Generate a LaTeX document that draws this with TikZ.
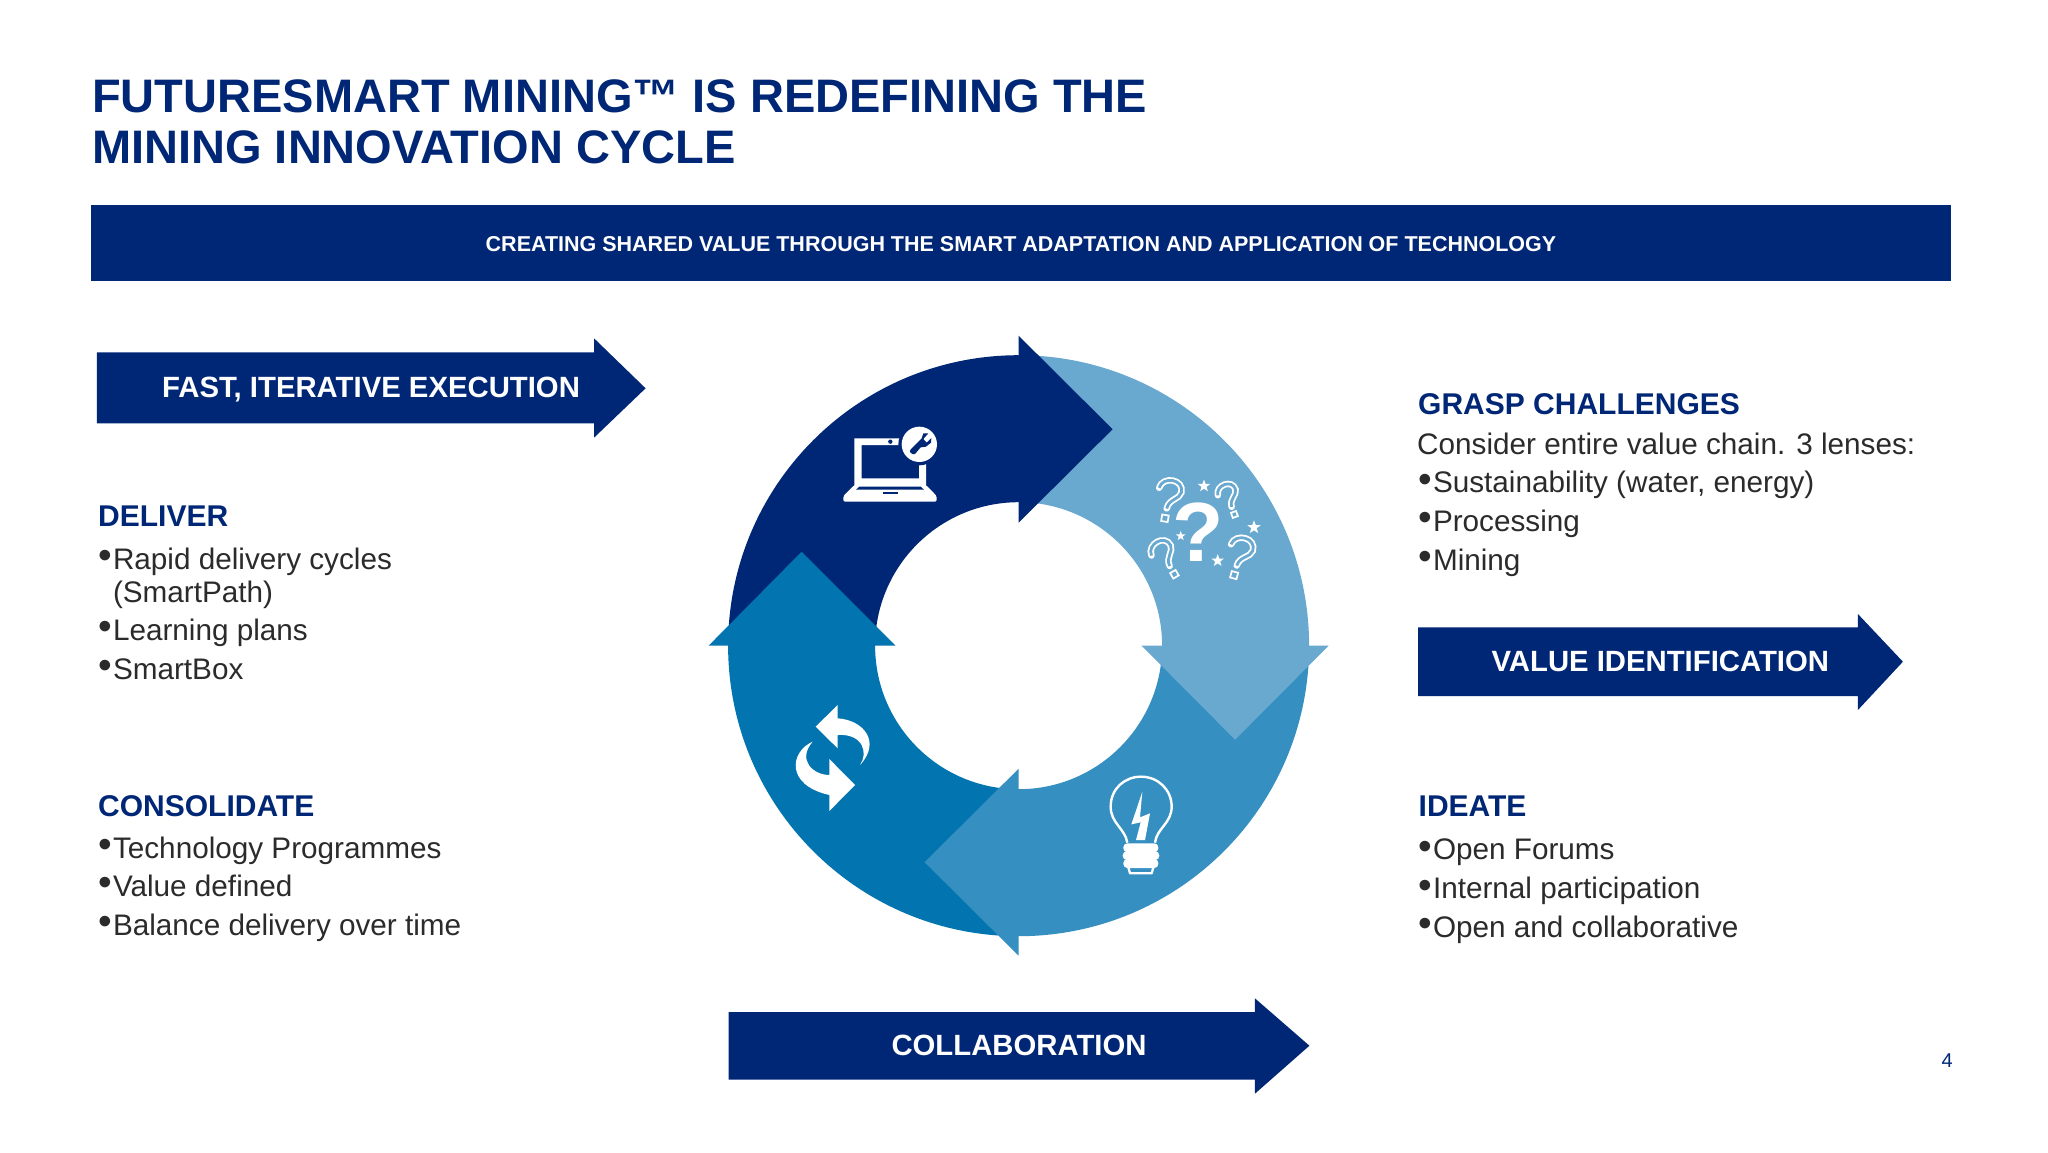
\documentclass[tikz,border=0pt]{standalone}
\usepackage{fontspec}
\setmainfont{Liberation Sans}
\usetikzlibrary{shapes.geometric}

\definecolor{navy}{HTML}{002776}
\definecolor{ringlight}{HTML}{69A9D0}
\definecolor{ringmid}{HTML}{358FC1}
\definecolor{ringteal}{HTML}{0274B0}
\definecolor{bodygray}{HTML}{2B2B2B}

\newcommand{\bul}{\makebox[14.8pt][l]{\raisebox{0.6pt}{\fontsize{39}{39}\selectfont •}}}
\newcommand{\qmark}[4]{%
	\begin{scope}[shift={(#1,#2)},rotate=#3,scale=#4]
		\draw[qout] (-30,-10) .. controls (-26,-45) and (34,-45) .. (32,-8) .. controls (30,12) and (2,14) .. (0,42);
		\draw[qin] (-30,-10) .. controls (-26,-45) and (34,-45) .. (32,-8) .. controls (30,12) and (2,14) .. (0,42);
		\draw[qdot] (-9,60) rectangle (9,78);
	\end{scope}}

\begin{document}
\begin{tikzpicture}[x=1pt,y=-1pt]
	\tikzstyle{titletext} = [anchor=base west,inner sep=0,text=navy,font=\bfseries\fontsize{47}{50}\selectfont]
	\tikzstyle{bartext} = [anchor=base,inner sep=0,text=white,font=\bfseries\fontsize{29.3}{36}\selectfont]
	\tikzstyle{headtext} = [anchor=base west,inner sep=0,text=navy,font=\bfseries\fontsize{30}{36}\selectfont]
	\tikzstyle{itemtext} = [anchor=base west,inner sep=0,text=bodygray,font=\fontsize{29.7}{36}\selectfont]
	\tikzstyle{qout} = [white,line width=6.4pt,line cap=round]
	\tikzstyle{qin} = [ringlight,line width=2.8pt]
	\tikzstyle{qdot} = [white,line width=1.7pt]
	\tikzstyle{qstar} = [star,star points=5,star point ratio=2.4,fill=white,inner sep=0]

	\useasboundingbox (0,0) rectangle (2048,1152);
	\fill[white] (0,0) rectangle (2048,1152);

	\node[titletext] (title1) at (92,112.7) {FUTURESMART MINING™ IS REDEFINING THE};
	\node[titletext] (title2) at (92,163.3) {MINING INNOVATION CYCLE};

	\fill[navy] (91.2,205) rectangle (1951,281);
	\node[anchor=base,inner sep=0,text=white,font=\bfseries\fontsize{21.5}{26}\selectfont] (band) at (1021,251) {CREATING SHARED VALUE THROUGH THE SMART ADAPTATION AND APPLICATION OF TECHNOLOGY};

	% bar arrows
	\fill[navy] (96.8,352.3) -- (594,352.3) -- (594,338.3) -- (645.6,388.3) -- (594,437.7) -- (594,423.3) -- (96.8,423.3) -- cycle;
	\node[bartext] (fast) at (371,397.3) {FAST, ITERATIVE EXECUTION};

	\fill[navy] (1418.2,627.3) -- (1857.9,627.3) -- (1857.9,614) -- (1902.9,661.7) -- (1857.9,710) -- (1857.9,696) -- (1418.2,696) -- cycle;
	\node[bartext] (value) at (1660.3,671) {VALUE IDENTIFICATION};

	\fill[navy] (728.6,1012) -- (1254.9,1012) -- (1254.9,998.3) -- (1309.4,1045.7) -- (1254.9,1093.7) -- (1254.9,1079.7) -- (728.6,1079.7) -- cycle;
	\node[bartext] (collab) at (1019,1055) {COLLABORATION};

	% left column
	\node[headtext] (deliver) at (98,526) {DELIVER};
	\node[itemtext] (d1) at (98,569.3) {\bul Rapid delivery cycles};
	\node[itemtext] (d2) at (112.8,602) {(SmartPath)};
	\node[itemtext] (d3) at (98,640.5) {\bul Learning plans};
	\node[itemtext] (d4) at (98,679) {\bul SmartBox};

	\node[headtext] (consolidate) at (98,816) {CONSOLIDATE};
	\node[itemtext] (c1) at (98,858.3) {\bul Technology Programmes};
	\node[itemtext] (c2) at (98,896.5) {\bul Value defined};
	\node[itemtext] (c3) at (98,935.3) {\bul Balance delivery over time};

	% right column
	\node[headtext] (grasp) at (1418,414) {GRASP CHALLENGES};
	\node[itemtext] (g0) at (1417,454) {Consider entire value chain. 3 lenses:};
	\node[itemtext] (g1) at (1418,492.7) {\bul Sustainability (water, energy)};
	\node[itemtext] (g2) at (1418,531.2) {\bul Processing};
	\node[itemtext] (g3) at (1418,570.3) {\bul Mining};

	\node[headtext] (ideate) at (1418.5,816.7) {IDEATE};
	\node[itemtext] (i1) at (1418,859.8) {\bul Open Forums};
	\node[itemtext] (i2) at (1418,898.8) {\bul Internal participation};
	\node[itemtext] (i3) at (1418,937.2) {\bul Open and collaborative};

	\node[anchor=base west,inner sep=0,text=navy,font=\fontsize{20}{24}\selectfont] (page) at (1941.5,1067.3) {4};

	% ring
	\begin{scope}[shift={(1018.6,645.7)}]
		\fill[navy] (180:290.5) arc[start angle=180,end angle=270,radius=290.5] -- (270:143.5) arc[start angle=270,end angle=180,radius=143.5] -- cycle;
		\fill[ringlight] (270:290.5) arc[start angle=270,end angle=360,radius=290.5] -- (0:143.5) arc[start angle=360,end angle=270,radius=143.5] -- cycle;
		\fill[ringmid] (0:290.5) arc[start angle=0,end angle=90,radius=290.5] -- (90:143.5) arc[start angle=90,end angle=0,radius=143.5] -- cycle;
		\fill[ringteal] (90:290.5) arc[start angle=90,end angle=180,radius=290.5] -- (180:143.5) arc[start angle=180,end angle=90,radius=143.5] -- cycle;

		\fill[navy] (0,-310) -- (94,-216.5) -- (0,-123) -- (0,-144) -- (-3,-144) -- (-3,-290) -- (0,-290) -- cycle;
		\fill[ringlight] (310,0) -- (216.5,94) -- (123,0) -- (144,0) -- (144,-3) -- (290,-3) -- (290,0) -- cycle;
		\fill[ringmid] (0,310) -- (-94,216.5) -- (0,123) -- (0,144) -- (3,144) -- (3,290) -- (0,290) -- cycle;
		\fill[ringteal] (-310,0) -- (-217,-94) -- (-123,0) -- (-144,0) -- (-144,3) -- (-290,3) -- (-290,0) -- cycle;
	\end{scope}

	% laptop
	\begin{scope}[shift={(820,410)},scale=1/3]
		\fill[white,even odd rule] (103,85) rectangle (318,228) (125,105) rectangle (297,205);
		\fill[white,rounded corners=1.5pt] (103,225) -- (318,225) -- (350,258) -- (350,275) -- (70,275) -- (70,258) -- cycle;
		\fill[navy] (118,230) -- (302,230) -- (312,239) -- (108,239) -- cycle;
		\fill[navy] (188,247) rectangle (235,253);
		\fill[navy] (211,95) circle (6.5);
		\fill[navy] (298,103) circle (63);
		\fill[white] (298,103) circle (53);
		\fill[navy] (272,118) -- (305,85) -- (310,70) -- (325,70) -- (310,87) -- (320,98) -- (334,84) -- (333,98) -- (318,110) -- (302,112) -- (285,132) .. controls (275,135) and (265,125) .. cycle;
	\end{scope}

	% question marks
	\begin{scope}[shift={(1130,460)},scale=1/3]
		\node[anchor=base,inner sep=0,text=white,font=\bfseries\fontsize{84}{84}\selectfont] (bigq) at (205,305) {?};
		\qmark{118}{100}{-10}{1.1}
		\qmark{292}{105}{20}{.9}
		\qmark{97}{280}{30}{1.05}
		\qmark{332}{272}{-15}{1.1}
		\node[qstar,minimum size=13pt] (s1) at (222,78) {};
		\node[qstar,minimum size=14pt] (s2) at (372,202) {};
		\node[qstar,minimum size=10pt] (s3) at (152,228) {};
		\node[qstar,minimum size=13pt] (s4) at (263,302) {};
	\end{scope}

	% bulb
	\begin{scope}[shift={(1090,760)},scale=1/3]
		\draw[white,line width=2.4pt] (112,248) .. controls (105,205) and (62,190) .. (62,140) .. controls (62,85) and (105,50) .. (153,50) .. controls (205,50) and (245,90) .. (245,140) .. controls (245,190) and (200,205) .. (195,248);
		\fill[white,rounded corners=4pt] (100,250) rectangle (205,277);
		\fill[white,rounded corners=4pt] (98,274) rectangle (208,300);
		\fill[white,rounded corners=4pt] (100,297) rectangle (205,324);
		\draw[white,line width=2.3pt,line join=round] (115,322) -- (120,340) -- (185,340) -- (190,322);
		\fill[white] (157,95) -- (124,193) -- (152,187) -- (138,240) -- (165,240) -- (180,160) -- (150,172) -- cycle;
	\end{scope}

	% refresh
	\begin{scope}[shift={(780,690)},scale=1/3]
		\fill[white] (107,110) -- (173,45) -- (173,85) .. controls (250,90) and (305,155) .. (240,225) .. controls (265,190) and (250,130) .. (173,135) -- (173,175) -- cycle;
		\fill[white] (225,285) -- (148,207) -- (148,255) .. controls (100,255) and (50,210) .. (98,155) .. controls (30,185) and (15,285) .. (148,315) -- (148,363) -- cycle;
	\end{scope}
\end{tikzpicture}
\end{document}
